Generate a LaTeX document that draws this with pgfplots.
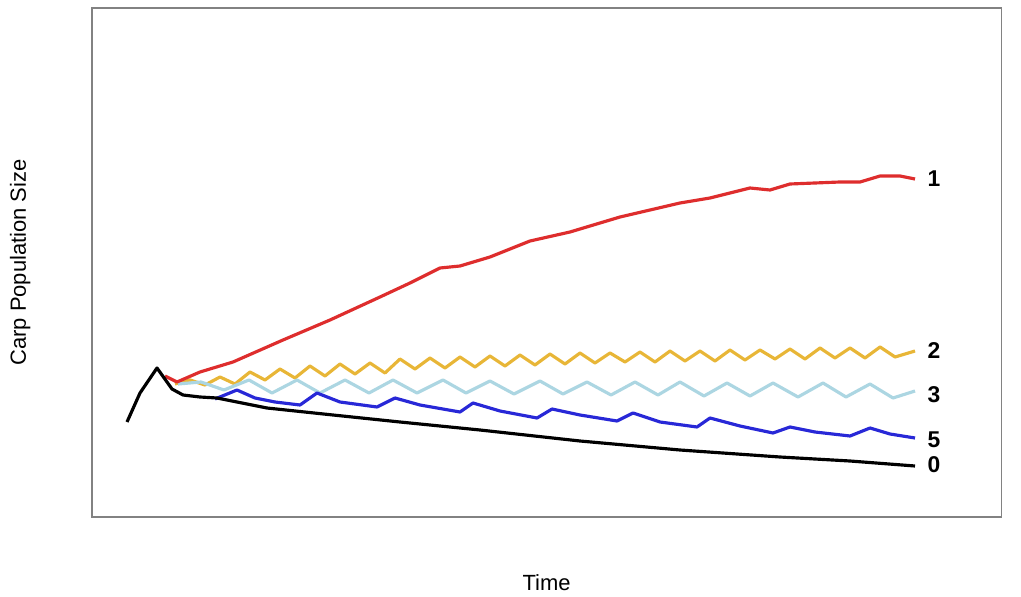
\documentclass[border=0pt]{standalone}
\usepackage{pgfplots}
\pgfplotsset{compat=1.18}
\usepackage{fontspec}
\setmainfont{Liberation Sans}
\definecolor{cred}{RGB}{222,45,45}
\definecolor{corange}{RGB}{232,182,55}
\definecolor{clblue}{RGB}{172,214,226}
\definecolor{cblue}{RGB}{40,40,215}
\definecolor{cframe}{RGB}{130,130,130}
\begin{document}
\begin{tikzpicture}
% fixed page size (1021 x 595 px at 0.02 cm/px)
\path (0,0) rectangle (20.42cm,11.9cm);
\begin{axis}[
    at={(1.84cm,1.56cm)}, anchor=south west,
    scale only axis,
    width=18.18cm, height=10.18cm,
    xmin=92, xmax=1001,
    ymin=8, ymax=517,
    y dir=reverse,
    axis line style={cframe, line width=0.6pt},
    xtick=\empty, ytick=\empty,
    xlabel={Time},
    ylabel={Carp Population Size},
    label style={font=\fontsize{12.5}{14}\selectfont},
    xlabel style={at={(axis description cs:0.5,-0.128)}, anchor=center},
    ylabel style={at={(axis description cs:-0.079,0.5)}, anchor=center},
    every axis plot/.append style={line width=1.8pt, line join=round},
    clip=false
]
% 2 (orange)
\addplot[corange] coordinates {
 (175,384) (190,380) (205,385) (220,377) (235,384) (250,372) (265,380)
 (280,369) (295,378) (310,366) (325,376) (340,364) (355,374) (370,363)
 (385,373) (400,359) (415,369) (430,358) (445,368) (460,357) (475,367)
 (490,356) (505,366) (520,355) (535,365) (550,354) (565,364) (580,353)
 (595,363) (610,353) (625,362) (640,352) (655,362) (670,351) (685,361)
 (700,351) (715,361) (730,350) (745,360) (760,350) (775,359) (790,349)
 (805,359) (820,348) (835,358) (850,348) (865,358) (880,347) (895,357)
 (915,351)
} node[anchor=west, xshift=3pt, text=black, font=\fontsize{13}{15}\selectfont\bfseries] {2};
% 3 (light blue)
\addplot[clblue] coordinates {
 (178,384) (201,382) (224,390) (249,380) (272,393) (297,380) (320,393)
 (345,380) (369,393) (393,380) (417,393) (443,380) (466,393) (490,381)
 (514,394) (540,381) (563,394) (587,382) (611,395) (635,382) (658,395)
 (680,382) (704,396) (727,383) (750,396) (773,383) (798,397) (823,383)
 (846,397) (870,384) (893,398) (915,391)
} node[anchor=west, xshift=3pt, yshift=-2pt, text=black, font=\fontsize{13}{15}\selectfont\bfseries] {3};
% 5 (blue)
\addplot[cblue] coordinates {
 (215,399) (237,390) (255,398) (275,402) (300,405) (317,393) (340,402)
 (377,407) (395,398) (420,405) (460,412) (473,403) (500,411) (537,418)
 (552,409) (580,415) (617,421) (633,413) (660,422) (697,427) (710,418)
 (740,426) (773,433) (790,427) (815,432) (850,436) (870,428) (890,434)
 (915,438)
} node[anchor=west, xshift=3pt, yshift=-1pt, text=black, font=\fontsize{13}{15}\selectfont\bfseries] {5};
% 1 (red)
\addplot[cred] coordinates {
 (165,376) (177,382) (200,372) (233,362) (283,340) (330,320) (380,297)
 (410,283) (440,268) (460,266) (490,257) (530,241) (570,232) (620,217)
 (680,203) (710,198) (750,188) (770,190) (790,184) (840,182) (860,182)
 (880,176) (900,176) (915,179)
} node[anchor=west, xshift=3pt, text=black, font=\fontsize{13}{15}\selectfont\bfseries] {1};
% 0 (black)
\addplot[black] coordinates {
 (127,422) (140,393) (157,368) (172,389) (183,395) (200,397) (217,398)
 (267,408) (333,415) (400,422) (480,430) (580,441) (680,450) (780,457)
 (850,461) (915,466)
} node[anchor=west, xshift=3pt, yshift=1pt, text=black, font=\fontsize{13}{15}\selectfont\bfseries] {0};
\end{axis}
\end{tikzpicture}
\end{document}
